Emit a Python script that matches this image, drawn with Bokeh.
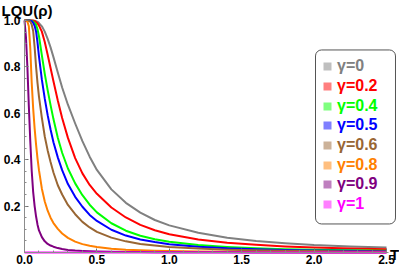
from bokeh.plotting import figure
from bokeh.models import (ColumnDataSource, FixedTicker, Legend, LegendItem, Label,
                          BoxAnnotation, Range1d)
from bokeh.embed import file_html
from bokeh.resources import INLINE

# ---------------- data ----------------
T = [0, 0.01, 0.02, 0.03, 0.04, 0.05, 0.06, 0.07, 0.08, 0.09, 0.10, 0.12, 0.14, 0.16,
     0.18, 0.20, 0.23, 0.26, 0.30, 0.35, 0.40, 0.45, 0.50, 0.60, 0.70, 0.80, 0.90,
     1.0, 1.2, 1.4, 1.6, 1.8, 2.0, 2.25, 2.5]

lqu_g0 = [1, 1, 1, 1, 1, 1, 1, 0.999, 0.997, 0.994, 0.989, 0.975, 0.952, 0.921, 0.884,
          0.842, 0.776, 0.711, 0.637, 0.556, 0.480, 0.413, 0.356, 0.272, 0.214, 0.172,
          0.140, 0.117, 0.085, 0.064, 0.050, 0.040, 0.032, 0.026, 0.021]
lqu_g02 = [1, 1, 1, 1, 1, 0.9995, 0.999, 0.997, 0.993, 0.987, 0.978, 0.952, 0.907, 0.852,
           0.795, 0.738, 0.655, 0.580, 0.494, 0.407, 0.341, 0.291, 0.253, 0.194, 0.151,
           0.119, 0.096, 0.079, 0.056, 0.042, 0.033, 0.026, 0.021, 0.017, 0.014]
lqu_g04 = [1, 1, 1, 1, 0.9995, 0.998, 0.995, 0.99, 0.982, 0.962, 0.932, 0.85, 0.77, 0.70,
           0.635, 0.575, 0.495, 0.43, 0.362, 0.298, 0.247, 0.206, 0.173, 0.126, 0.094,
           0.072, 0.057, 0.046, 0.032, 0.024, 0.018, 0.0145, 0.012, 0.0095, 0.0078]
lqu_g05 = [1, 1, 1, 0.9995, 0.999, 0.997, 0.99, 0.977, 0.953, 0.905, 0.845, 0.745, 0.663,
           0.592, 0.53, 0.475, 0.41, 0.355, 0.295, 0.24, 0.197, 0.162, 0.136, 0.098,
           0.073, 0.056, 0.045, 0.036, 0.025, 0.018, 0.014, 0.011, 0.009, 0.007, 0.0056]
lqu_g06 = [1, 1, 1, 0.999, 0.995, 0.982, 0.955, 0.885, 0.80, 0.73, 0.672, 0.58, 0.50,
           0.44, 0.39, 0.345, 0.29, 0.25, 0.205, 0.165, 0.132, 0.108, 0.089, 0.064,
           0.048, 0.037, 0.030, 0.024, 0.0168, 0.0123, 0.0094, 0.0074, 0.006, 0.0048, 0.0038]
lqu_g08 = [1, 0.999, 0.995, 0.975, 0.88, 0.73, 0.62, 0.535, 0.465, 0.405, 0.355, 0.275,
           0.22, 0.18, 0.15, 0.127, 0.102, 0.082, 0.063, 0.047, 0.036, 0.029, 0.024,
           0.0165, 0.012, 0.0093, 0.0073, 0.006, 0.0042, 0.003, 0.0023, 0.0018, 0.0015,
           0.0012, 0.001]
lqu_g09 = [1, 0.93, 0.8, 0.63, 0.48, 0.35, 0.26, 0.2, 0.155, 0.12, 0.095, 0.066, 0.048,
           0.037, 0.03, 0.025, 0.019, 0.015, 0.011, 0.0082, 0.0063, 0.005, 0.004, 0.0028,
           0.002, 0.0016, 0.0012, 0.001, 0.0007, 0.0005, 0.0004, 0.0003, 0.00025, 0.0002,
           0.00016]
lqu_g1 = [0] * len(T)

series_keys = ["g0", "g02", "g04", "g05", "g06", "g08", "g09", "g1"]
series_values = [lqu_g0, lqu_g02, lqu_g04, lqu_g05, lqu_g06, lqu_g08, lqu_g09, lqu_g1]
series_labels = ["γ=0", "γ=0.2", "γ=0.4", "γ=0.5", "γ=0.6", "γ=0.8", "γ=0.9", "γ=1"]
series_colors = ["#808080", "#ff0000", "#00ff00", "#0000ff", "#996633", "#ff8000",
                 "#800080", "#ff00ff"]

x_ticks = [0.0, 0.5, 1.0, 1.5, 2.0, 2.5]
x_tick_labels = ["0.0", "0.5", "1.0", "1.5", "2.0", "2.5"]
y_ticks = [0.2, 0.4, 0.6, 0.8, 1.0]
y_tick_labels = ["0.2", "0.4", "0.6", "0.8", "1.0"]

# ---------------- figure ----------------
FONT = "Liberation Sans"
W, H = 399, 267
p = figure(width=W, height=H, output_backend="svg", toolbar_location=None,
           x_range=Range1d(-0.1657, 2.5898), y_range=Range1d(-0.0647, 1.0862),
           min_border=0, min_border_left=0, min_border_right=0,
           min_border_top=0, min_border_bottom=0,
           background_fill_color="white", border_fill_color="white")
p.outline_line_color = None
p.xgrid.visible = False
p.ygrid.visible = False

data = {"T": T}
for k, v in zip(series_keys, series_values):
    data[k] = v
src = ColumnDataSource(data)

for k, c in zip(series_keys, series_colors):
    p.line(x="T", y=k, source=src, line_color=c, line_width=2, line_join="round")

# axes drawn through the origin, as in the reference
for ax in (p.xaxis[0], p.yaxis[0]):
    ax.fixed_location = 0
    ax.axis_line_color = "#8c8c8c"
    ax.major_tick_line_color = "#6e6e6e"
    ax.minor_tick_line_color = "#8c8c8c"
    ax.major_tick_in = 4
    ax.major_tick_out = 0
    ax.minor_tick_in = 2
    ax.minor_tick_out = 0
    ax.major_label_text_font = FONT
    ax.major_label_text_font_style = "bold"
    ax.major_label_text_font_size = "12px"
    ax.major_label_text_color = "black"
    ax.major_label_standoff = 4
p.xaxis.major_label_standoff = 3

p.xaxis.ticker = FixedTicker(ticks=x_ticks,
                             minor_ticks=[round(0.1 * i, 1) for i in range(26)])
p.xaxis.major_label_overrides = dict(zip(x_ticks, x_tick_labels))
p.xaxis.bounds = (0, 2.515)
p.yaxis.ticker = FixedTicker(ticks=y_ticks,
                             minor_ticks=[round(0.05 * i, 2) for i in range(1, 21)])
p.yaxis.major_label_overrides = dict(zip(y_ticks, y_tick_labels))
p.yaxis.bounds = (0, 1)

p.add_layout(Label(x=-0.159, y=1.043, text="LQU(ρ)", text_font=FONT,
                   text_font_style="bold", text_font_size="15px",
                   text_baseline="middle", text_align="left", text_color="black"))
p.add_layout(Label(x=2.524, y=-0.0086, text="T", text_font=FONT,
                   text_font_style="bold", text_font_size="15px",
                   text_baseline="middle", text_align="left", text_color="black"))

# legend frame
p.add_layout(BoxAnnotation(left=2.0097, right=2.5621, top=0.873, bottom=0.123,
                           fill_color="white", fill_alpha=1.0, line_color="#555555",
                           line_alpha=1.0, line_width=1, border_radius=6))

for i, (k, lbl, c) in enumerate(zip(series_keys, series_labels, series_colors)):
    # invisible (size 0) square markers on the series, used only for the legend swatch
    proxy = p.scatter(x="T", y=k, source=src, marker="square", size=0,
                      fill_color=c, fill_alpha=0.5, line_color=None)
    leg = Legend(items=[LegendItem(label=lbl, renderers=[proxy])],
                 location=(317, 190.8 - 19.66 * i),
                 border_line_color=None, background_fill_alpha=0,
                 padding=0, margin=0, spacing=0,
                 glyph_width=20, glyph_height=20, label_standoff=0, label_height=20,
                 label_text_font=FONT, label_text_font_style="bold",
                 label_text_font_size="16px", label_text_color=c)
    p.add_layout(leg)

open("out.html", "w").write(file_html(p, INLINE))
